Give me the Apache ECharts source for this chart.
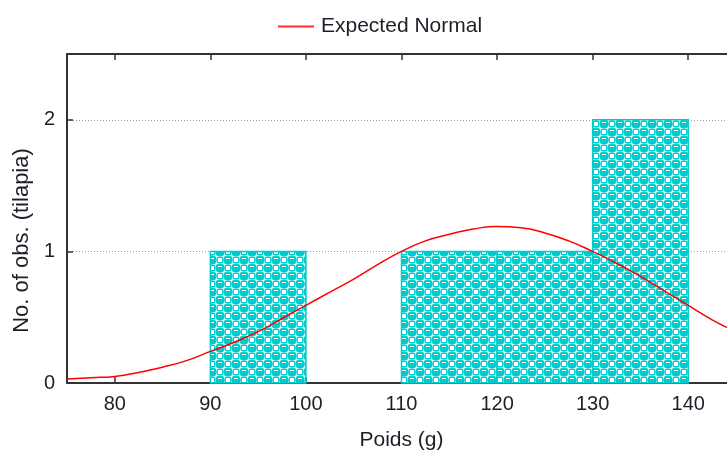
<!DOCTYPE html>
<html>
<head>
<meta charset="utf-8">
<script src="https://cdn.jsdelivr.net/npm/echarts@6/dist/echarts.min.js"></script>
<style>
  html, body { margin: 0; padding: 0; background: #fff; }
  #chart { width: 727px; height: 455px; }
</style>
</head>
<body>
<div id="chart"></div>
<script>
// histogram bins: [from, to, count]
const binStart = [90, 110, 120, 130]
const binEnd = [100, 120, 130, 140]
const binCount = [1, 1, 1, 2]

// expected normal curve
const curveX = [75, 77.5, 80, 82.5, 85, 87.5, 90, 92.5, 95, 97.5, 100, 102.5, 105, 107.5, 110,
  112.5, 115, 117.5, 120, 122.5, 125, 127.5, 130, 132.5, 135, 137.5, 140, 142.5, 145]
const curveY = [0.03, 0.04, 0.05, 0.08, 0.12, 0.17, 0.24, 0.31, 0.39, 0.49, 0.59, 0.69, 0.79, 0.90, 1.00,
  1.08, 1.13, 1.17, 1.19, 1.18, 1.14, 1.08, 1.00, 0.91, 0.81, 0.70, 0.59, 0.48, 0.39]

const xTicks = [80, 90, 100, 110, 120, 130, 140]

const font = 'Liberation Sans, Arial, sans-serif'
const cyan = '#00cccc'
const ink = '#1e1e28'

// bubble fill of the bars
function makePattern() {
  const c = document.createElement('canvas')
  c.width = 16
  c.height = 16
  const ctx = c.getContext('2d')
  ctx.fillStyle = '#ffffff'
  ctx.fillRect(0, 0, 16, 16)
  ctx.fillStyle = cyan
  ;[[4, 4], [12, 12], [-4, 12], [12, -4], [20, 4], [4, 20], [-4, -4], [20, 20]].forEach(function (p) {
    ctx.beginPath()
    ctx.arc(p[0], p[1], 4.8, 0, Math.PI * 2)
    ctx.fill()
  })
  // white squares between the bubbles, framed in cyan
  ctx.fillStyle = '#ffffff'
  ctx.fillRect(10, 2, 4, 4)
  ctx.fillRect(2, 10, 4, 4)
  ctx.strokeStyle = cyan
  ctx.lineWidth = 1
  ctx.strokeRect(9.5, 1.5, 5, 5)
  ctx.strokeRect(1.5, 9.5, 5, 5)
  // highlight on each bubble
  ctx.fillRect(2, 2, 4, 1)
  ctx.fillRect(10, 10, 4, 1)
  return c
}
const pattern = makePattern()

const bins = binStart.map(function (s, i) { return [s, binEnd[i], binCount[i]] })
const curve = curveX.map(function (x, i) { return [x, curveY[i]] })

const chart = echarts.init(document.getElementById('chart'))
chart.setOption({
  animation: false,
  textStyle: { fontFamily: font },
  legend: {
    top: 11,
    left: 273,
    itemWidth: 36,
    itemHeight: 2,
    textStyle: { fontFamily: font, fontSize: 21, color: ink, padding: [0, 0, 0, 2] },
    data: [{ name: 'Expected Normal', icon: 'rect', itemStyle: { color: '#ff3030' } }]
  },
  grid: { left: 67, width: 669, top: 54, bottom: 72, outerBoundsMode: 'none' },
  xAxis: [{
    type: 'value',
    min: 75,
    max: 145,
    name: 'Poids (g)',
    nameLocation: 'middle',
    nameGap: 47,
    nameTextStyle: { fontFamily: font, fontSize: 21, color: ink },
    axisLine: { show: true, onZero: false, lineStyle: { color: '#333', width: 2 } },
    axisTick: { show: true, inside: true, length: 6, customValues: xTicks, lineStyle: { color: '#333', width: 1.5 } },
    axisLabel: { customValues: xTicks, margin: 11, fontFamily: font, fontSize: 20, color: ink },
    splitLine: { show: false }
  }, {
    type: 'value',
    position: 'top',
    min: 75,
    max: 145,
    axisLine: { show: true, onZero: false, lineStyle: { color: '#333', width: 2 } },
    axisTick: { show: true, inside: true, length: 6, customValues: xTicks, lineStyle: { color: '#333', width: 1.5 } },
    axisLabel: { show: false },
    splitLine: { show: false }
  }],
  yAxis: [{
    type: 'value',
    min: 0,
    max: 2.5,
    interval: 1,
    name: 'No. of obs. (tilapia)',
    nameLocation: 'middle',
    nameGap: 34,
    nameTextStyle: { fontFamily: font, fontSize: 22, color: ink, padding: [0, 0, 0, -44] },
    axisLine: { show: true, onZero: false, lineStyle: { color: '#333', width: 2 } },
    axisTick: { show: true, inside: true, length: 6, lineStyle: { color: '#333', width: 1.5 } },
    axisLabel: { margin: 12, fontFamily: font, fontSize: 20, color: ink, showMaxLabel: false },
    splitLine: { show: true, lineStyle: { color: '#9a9a9a', type: [1, 2], width: 1 } }
  }],
  series: [{
    name: 'bins',
    type: 'custom',
    data: bins,
    z: 2,
    renderItem: function (params, api) {
      const p0 = api.coord([api.value(0), 0])
      const p1 = api.coord([api.value(1), api.value(2)])
      return {
        type: 'rect',
        shape: { x: p0[0], y: p1[1], width: p1[0] - p0[0], height: p0[1] - p1[1] },
        style: {
          fill: { type: 'pattern', image: pattern, repeat: 'repeat' },
          stroke: cyan,
          lineWidth: 1.5
        }
      }
    }
  }, {
    name: 'Expected Normal',
    type: 'line',
    data: curve,
    smooth: true,
    symbol: 'none',
    z: 3,
    lineStyle: { color: '#ff0000', width: 1.5 },
    itemStyle: { color: '#ff0000' }
  }]
})
</script>
</body>
</html>
